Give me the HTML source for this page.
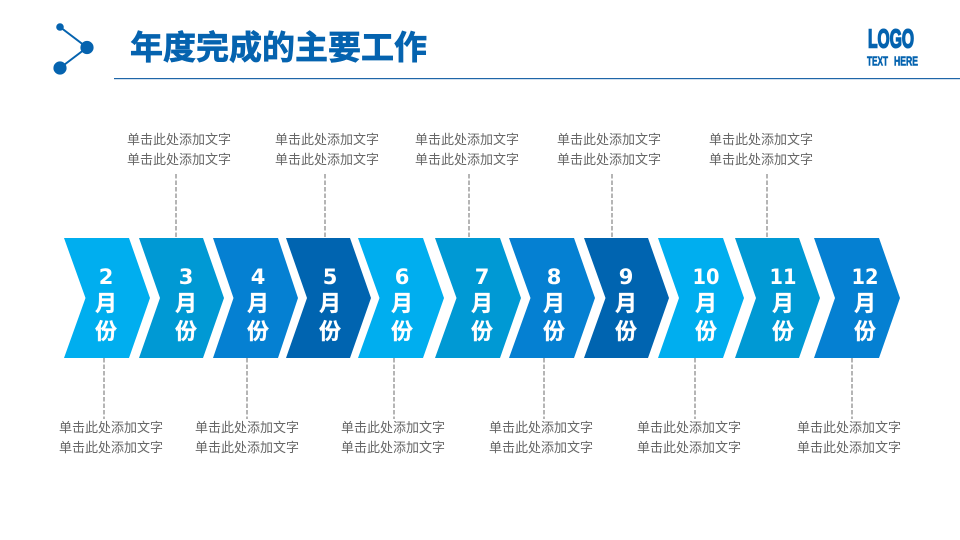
<!DOCTYPE html>
<html lang="zh">
<head>
<meta charset="utf-8">
<style>
html,body{margin:0;padding:0;background:#fff;width:960px;height:540px;overflow:hidden}
svg{display:block}
.s{font-family:"Liberation Sans","Noto Sans CJK SC",sans-serif;font-size:13px;fill:#666}
.m{font-family:"Noto Sans CJK SC",sans-serif;font-size:22px;font-weight:700;fill:#fff;stroke:#fff;stroke-width:.3;text-anchor:middle}
.n{font-family:"DejaVu Sans",sans-serif;font-size:21px;font-weight:700;fill:#fff;text-anchor:middle}
.d{stroke:#adadad;stroke-width:1.8;stroke-dasharray:4.500 2;fill:none}
.l{font-family:"Liberation Sans Narrow","Liberation Sans",sans-serif;font-weight:700;fill:#0563af;stroke:#0563af}
</style>
</head>
<body>
<svg width="960" height="540" viewBox="0 0 960 540" xmlns="http://www.w3.org/2000/svg">
<rect width="960" height="540" fill="#fff"/>
<g stroke="#0563af" stroke-width="2" fill="none"><path d="M60 27 L87 47.500 L60 68"/></g>
<g fill="#0563af"><circle cx="60" cy="27" r="3.800"/><circle cx="87" cy="47.500" r="6.600"/><circle cx="60" cy="68" r="6.600"/></g>
<text x="130" y="59" font-family="'Noto Sans CJK SC',sans-serif" font-size="33" font-weight="700" fill="#0563af" stroke="#0563af" stroke-width=".7" textLength="297" lengthAdjust="spacingAndGlyphs">年度完成的主要工作</text>
<rect x="114" y="78" width="846" height="1.200" fill="#1f66a8"/>
<text class="l" x="868" y="47.500" font-size="26" stroke-width="1.600" textLength="46" lengthAdjust="spacingAndGlyphs">LOGO</text>
<text class="l" x="867" y="65.500" font-size="13" stroke-width=".6" textLength="21" lengthAdjust="spacingAndGlyphs">TEXT</text>
<text class="l" x="894" y="65.500" font-size="13" stroke-width=".6" textLength="24" lengthAdjust="spacingAndGlyphs">HERE</text>

<g class="d">
<path class="d" d="M176 174V238"/><path class="d" d="M325 174V238"/><path class="d" d="M469 174V238"/><path class="d" d="M612 174V238"/><path class="d" d="M767 174V238"/>
<path class="d" d="M104 358V419"/><path class="d" d="M247 358V419"/><path class="d" d="M394 358V419"/><path class="d" d="M544 358V419"/><path class="d" d="M695 358V419"/><path class="d" d="M852 358V419"/>
</g>

<path fill="#00aeef" d="M64 238H129L150 298L129 358H64L85.500 298Z"/>
<path fill="#0099d4" d="M139 238H203L224 298L203 358H139L160 298Z"/>
<path fill="#0580d2" d="M213 238H278L298 298L278 358H213L233.500 298Z"/>
<path fill="#0064b0" d="M286 238H350L371 298L350 358H286L307 298Z"/>
<path fill="#00aeef" d="M358 238H423L444 298L423 358H358L379.500 298Z"/>
<path fill="#0099d4" d="M435 238H500L521 298L500 358H435L456.500 298Z"/>
<path fill="#0580d2" d="M509 238H574L595 298L574 358H509L530.500 298Z"/>
<path fill="#0064b0" d="M584 238H648L669 298L648 358H584L605.500 298Z"/>
<path fill="#00aeef" d="M658 238H723L744 298L723 358H658L679 298Z"/>
<path fill="#0099d4" d="M735 238H799L820 298L799 358H735L756 298Z"/>
<path fill="#0580d2" d="M814 238H879L900 298L879 358H814L835 298Z"/>

<text class="n" x="106" y="284">2</text><text class="m" x="106" y="311">月</text><text class="m" x="106" y="339">份</text>
<text class="n" x="186" y="284">3</text><text class="m" x="186" y="311">月</text><text class="m" x="186" y="339">份</text>
<text class="n" x="258" y="284">4</text><text class="m" x="258" y="311">月</text><text class="m" x="258" y="339">份</text>
<text class="n" x="330" y="284">5</text><text class="m" x="330" y="311">月</text><text class="m" x="330" y="339">份</text>
<text class="n" x="402" y="284">6</text><text class="m" x="402" y="311">月</text><text class="m" x="402" y="339">份</text>
<text class="n" x="482" y="284">7</text><text class="m" x="482" y="311">月</text><text class="m" x="482" y="339">份</text>
<text class="n" x="554" y="284">8</text><text class="m" x="554" y="311">月</text><text class="m" x="554" y="339">份</text>
<text class="n" x="626" y="284">9</text><text class="m" x="626" y="311">月</text><text class="m" x="626" y="339">份</text>
<text class="n" x="706" y="284" textLength="27" lengthAdjust="spacingAndGlyphs">10</text><text class="m" x="706" y="311">月</text><text class="m" x="706" y="339">份</text>
<text class="n" x="783" y="284" textLength="27" lengthAdjust="spacingAndGlyphs">11</text><text class="m" x="783" y="311">月</text><text class="m" x="783" y="339">份</text>
<text class="n" x="865" y="284" textLength="27" lengthAdjust="spacingAndGlyphs">12</text><text class="m" x="865" y="311">月</text><text class="m" x="865" y="339">份</text>

<text class="s" x="127" y="144">单击此处添加文字</text><text class="s" x="127" y="164">单击此处添加文字</text>
<text class="s" x="275" y="144">单击此处添加文字</text><text class="s" x="275" y="164">单击此处添加文字</text>
<text class="s" x="415" y="144">单击此处添加文字</text><text class="s" x="415" y="164">单击此处添加文字</text>
<text class="s" x="557" y="144">单击此处添加文字</text><text class="s" x="557" y="164">单击此处添加文字</text>
<text class="s" x="709" y="144">单击此处添加文字</text><text class="s" x="709" y="164">单击此处添加文字</text>

<text class="s" x="59" y="432">单击此处添加文字</text><text class="s" x="59" y="452">单击此处添加文字</text>
<text class="s" x="195" y="432">单击此处添加文字</text><text class="s" x="195" y="452">单击此处添加文字</text>
<text class="s" x="341" y="432">单击此处添加文字</text><text class="s" x="341" y="452">单击此处添加文字</text>
<text class="s" x="489" y="432">单击此处添加文字</text><text class="s" x="489" y="452">单击此处添加文字</text>
<text class="s" x="637" y="432">单击此处添加文字</text><text class="s" x="637" y="452">单击此处添加文字</text>
<text class="s" x="797" y="432">单击此处添加文字</text><text class="s" x="797" y="452">单击此处添加文字</text>
</svg>
</body>
</html>
